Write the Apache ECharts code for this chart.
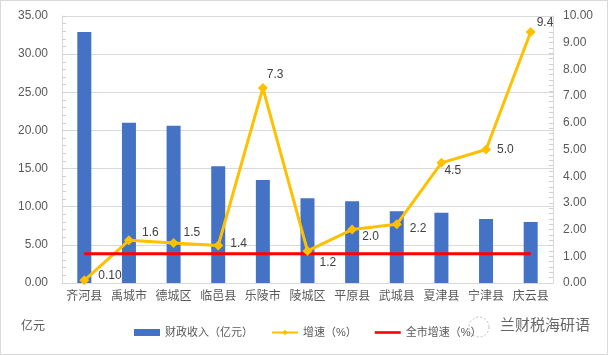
<!DOCTYPE html>
<html><head><meta charset="utf-8">
<script src="https://cdn.jsdelivr.net/npm/echarts@6/dist/echarts.min.js"></script>
<style>html,body{margin:0;padding:0;background:#fff}#c{width:606px;height:353px;border:1px solid #d9d9d9}</style>
</head><body><div id="c"></div>
<script>
var categories = ['齐河县','禹城市','德城区','临邑县','乐陵市','陵城区','平原县','武城县','夏津县','宁津县','庆云县'];
var revenue = [32.9, 21.0, 20.6, 15.3, 13.5, 11.1, 10.7, 9.4, 9.2, 8.4, 8.0];
var growth = [0.10, 1.6, 1.5, 1.4, 7.3, 1.2, 2.0, 2.2, 4.5, 5.0, 9.4];
var growthLabels = ['0.10','1.6','1.5','1.4','7.3','1.2','2.0','2.2','4.5','5.0','9.4'];
var cityGrowth = 1.1;
var leftTicks = [0, 35, 5];
var rightTicks = [0, 10, 1];

var labelOffsets = [[4,-5],[3,-8],[0,-10],[2,-2],[-6,-13],[2,12],[0,7],[3,4],[-7,8],[1,0],[-4,-9]];
var growthData = growth.map(function(v,i){
  return {value:v, label:{show:true, position:'right', offset:labelOffsets[i], formatter:growthLabels[i]}};
});
var cityData = categories.map(function(c,i){
  return i===categories.length-1 ? {value:cityGrowth, label:{show:true, position:'right', offset:[7,-9], color:'#ff0000', fontWeight:'bold', formatter:cityGrowth.toFixed(1)}} : cityGrowth;
});
var ff = '"Liberation Sans","Noto Sans CJK SC",sans-serif';
var axisCommon = {
  axisLine:{show:true, lineStyle:{color:'#d9d9d9'}},
  axisTick:{show:true, inside:true, length:4, lineStyle:{color:'#d0d0d0'}},
  minorTick:{show:true, splitNumber:5, length:4, lineStyle:{color:'#d0d0d0'}}
};
var chart = echarts.init(document.getElementById('c'));
chart.setOption({
  animation:false,
  textStyle:{fontFamily:ff},
  grid:{left:61, right:54, top:15, bottom:71},
  xAxis:{type:'category', data:categories,
    axisLine:{lineStyle:{color:'#d9d9d9'}}, axisTick:{show:false},
    axisLabel:{color:'#595959', fontSize:12, margin:8, interval:0}},
  yAxis:[
    Object.assign({type:'value', min:leftTicks[0], max:leftTicks[1], interval:leftTicks[2],
     splitLine:{lineStyle:{color:'#d9d9d9'}},
     axisLabel:{color:'#595959', fontSize:12, formatter:function(v){return v.toFixed(2);}, margin:14}}, axisCommon),
    Object.assign({type:'value', min:rightTicks[0], max:rightTicks[1], interval:rightTicks[2],
     splitLine:{show:false},
     axisLabel:{color:'#595959', fontSize:12, formatter:function(v){return v.toFixed(2);}, margin:10}}, axisCommon)
  ],
  legend:{top:321, left:128, itemGap:18, itemWidth:26, itemHeight:7,
    textStyle:{color:'#595959', fontSize:11},
    data:[{name:'财政收入（亿元）', icon:'rect'}, {name:'增速（%）'},
          {name:'全市增速（%）', icon:'path://M0,0H30V3H0Z'}]},
  graphic:[
    {type:'text', left:20, top:318, style:{text:'亿元', fill:'#595959', font:'12px "Noto Sans CJK SC"'}},
    {type:'circle', shape:{cx:478, cy:326, r:10}, style:{fill:'none', stroke:'#bbb', lineWidth:1, lineDash:[2,2]}},
    {type:'text', left:499, top:316, style:{text:'兰财税海研语', fill:'#666', font:'15px "Noto Sans CJK SC"'}}
  ],
  series:[
    {name:'财政收入（亿元）', type:'bar', data:revenue, barWidth:14, itemStyle:{color:'#4472C4'}},
    {name:'增速（%）', type:'line', yAxisIndex:1, data:growthData, symbol:'diamond', symbolSize:10,
     lineStyle:{color:'#FFC000', width:3}, itemStyle:{color:'#FFC000'},
     label:{color:'#404040', fontSize:12}},
    {name:'全市增速（%）', type:'line', yAxisIndex:1, data:cityData, symbol:'none', showSymbol:false,
     lineStyle:{color:'#FF0000', width:3}, itemStyle:{color:'#FF0000'},
     label:{fontSize:12}}
  ]
});
</script></body></html>
